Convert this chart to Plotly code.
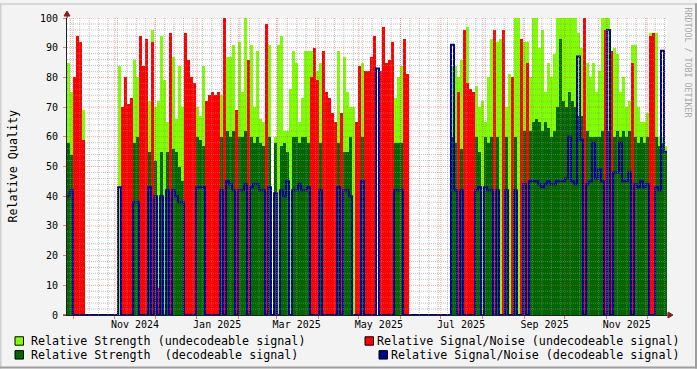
import plotly.graph_objects as go
import pandas as pd

# ---------------- data (per ~2.2-day bin) ----------------
START = "2024-09-26 13:00"
N_BINS = 200
BIN_SECONDS = 192370

# Relative Strength (undecodeable signal)
strength_undec = [
    85, 75, 0, 0, 0, 69, 0, 0, 0, 0, 0, 0, 0, 0, 0, 0, 0, 84, 0, 0,
    0, 0, 86, 80, 0, 0, 0, 72, 96, 70, 72, 94, 79, 65, 0, 87, 66, 84, 70, 0,
    0, 0, 0, 70, 67, 84, 0, 0, 0, 0, 0, 74, 0, 87, 87, 91, 0, 92, 75, 100,
    0, 91, 70, 89, 66, 65, 0, 91, 0, 60, 91, 94, 62, 62, 76, 89, 85, 65, 73, 89,
    89, 89, 0, 82, 85, 0, 0, 0, 0, 0, 89, 0, 87, 75, 70, 70, 0, 0, 85, 74,
    0, 0, 0, 0, 0, 0, 0, 0, 0, 73, 80, 84, 0, 0, 0, 0, 0, 0, 0, 0,
    0, 0, 0, 0, 0, 0, 0, 0, 84, 84, 80, 86, 0, 97, 0, 0, 77, 70, 72, 65,
    80, 93, 0, 92, 93, 0, 70, 81, 0, 100, 100, 0, 92, 92, 80, 100, 100, 90, 96, 75,
    85, 80, 88, 100, 100, 100, 100, 100, 100, 100, 95, 90, 0, 85, 80, 85, 75, 82, 100, 100,
    100, 0, 90, 88, 75, 80, 70, 72, 91, 91, 70, 65, 65, 68, 95, 0, 95, 60, 60, 57,
]

# Relative Signal/Noise (undecodeable signal)
snr_undec = [
    0, 0, 80, 94, 92, 59, 0, 0, 0, 0, 0, 0, 0, 0, 0, 0, 0, 0, 70, 80,
    71, 73, 0, 0, 94, 84, 93, 0, 92, 0, 9, 0, 0, 0, 95, 0, 0, 0, 0, 95,
    86, 80, 78, 0, 0, 0, 72, 74, 75, 74, 75, 0, 100, 0, 0, 0, 69, 0, 0, 0,
    86, 0, 0, 0, 0, 0, 98, 0, 0, 0, 0, 0, 0, 0, 0, 0, 0, 0, 0, 0,
    0, 80, 90, 79, 0, 89, 75, 73, 68, 65, 0, 68, 0, 0, 0, 0, 65, 84, 0, 82,
    82, 87, 94, 0, 82, 97, 85, 86, 92, 0, 0, 0, 93, 81, 0, 0, 0, 0, 0, 0,
    0, 0, 0, 0, 0, 0, 0, 0, 0, 0, 75, 0, 96, 78, 76, 75, 0, 0, 0, 0,
    0, 0, 96, 0, 0, 96, 0, 0, 80, 0, 0, 93, 0, 85, 0, 0, 0, 0, 0, 0,
    0, 0, 0, 0, 0, 0, 0, 0, 0, 0, 0, 0, 100, 0, 0, 0, 0, 0, 0, 96,
    0, 89, 0, 0, 0, 0, 0, 0, 85, 0, 0, 0, 0, 0, 94, 95, 0, 0, 0, 0,
]

# Relative Strength (decodeable signal)
strength_dec = [
    58, 54, 0, 0, 0, 0, 0, 0, 0, 0, 0, 0, 0, 0, 0, 0, 0, 0, 0, 0,
    0, 0, 58, 60, 0, 0, 0, 55, 0, 52, 0, 55, 0, 55, 0, 56, 55, 50, 45, 0,
    0, 0, 0, 60, 59, 57, 0, 0, 0, 0, 0, 60, 0, 62, 60, 62, 0, 60, 60, 62,
    0, 60, 58, 60, 58, 57, 0, 60, 0, 58, 0, 57, 58, 55, 0, 60, 60, 58, 60, 60,
    58, 0, 0, 0, 58, 0, 0, 0, 0, 0, 58, 0, 55, 55, 60, 0, 0, 0, 60, 0,
    0, 0, 0, 0, 0, 0, 0, 0, 0, 58, 58, 58, 0, 0, 0, 0, 0, 0, 0, 0,
    0, 0, 0, 0, 0, 0, 0, 0, 60, 58, 0, 56, 0, 0, 0, 0, 60, 55, 0, 60,
    58, 60, 0, 60, 0, 0, 60, 0, 0, 60, 0, 0, 62, 0, 62, 65, 66, 65, 62, 65,
    63, 60, 62, 70, 93, 72, 70, 75, 72, 70, 67, 67, 0, 62, 60, 60, 60, 60, 62, 0,
    62, 0, 60, 62, 60, 62, 60, 62, 0, 60, 58, 60, 58, 60, 0, 0, 60, 57, 58, 55,
]

# Relative Signal/Noise (decodeable signal)
snr_dec = [
    40, 42, 0, 0, 0, 0, 0, 0, 0, 0, 0, 0, 0, 0, 0, 0, 0, 43, 0, 0,
    0, 0, 38, 38, 0, 0, 0, 43, 0, 40, 0, 40, 0, 42, 0, 42, 40, 38, 38, 0,
    0, 0, 0, 43, 43, 43, 0, 0, 0, 0, 0, 42, 0, 45, 44, 42, 0, 42, 42, 44,
    0, 43, 44, 44, 42, 42, 0, 43, 0, 41, 0, 42, 40, 45, 0, 42, 42, 44, 42, 42,
    43, 0, 0, 0, 42, 0, 0, 0, 0, 0, 43, 0, 42, 42, 40, 0, 0, 0, 45, 0,
    0, 0, 0, 83, 0, 0, 0, 0, 0, 42, 42, 42, 0, 0, 0, 0, 0, 0, 0, 0,
    0, 0, 0, 0, 0, 0, 0, 0, 91, 42, 0, 42, 0, 0, 0, 0, 42, 43, 0, 43,
    42, 42, 0, 42, 0, 0, 42, 0, 0, 42, 0, 0, 44, 0, 45, 45, 45, 44, 43, 44,
    45, 44, 44, 45, 45, 45, 46, 60, 45, 44, 87, 59, 0, 44, 45, 58, 46, 49, 45, 0,
    96, 0, 48, 48, 58, 45, 45, 48, 0, 44, 43, 45, 43, 44, 0, 0, 43, 42, 89, 55,
]

# axis labels
LABEL_DATES = ["2024-11-16", "2025-01-16", "2025-03-16", "2025-05-16",
               "2025-07-16", "2025-09-16", "2025-11-16"]
LABEL_TEXT = ["Nov 2024", "Jan 2025", "Mar 2025", "May 2025",
              "Jul 2025", "Sep 2025", "Nov 2025"]
Y_TICKS = [0, 10, 20, 30, 40, 50, 60, 70, 80, 90, 100]

SERIES_NAMES = ["Relative Strength (undecodeable signal)",
                "Relative Signal/Noise (undecodeable signal)",
                "Relative Strength  (decodeable signal)",
                "Relative Signal/Noise (decodeable signal)"]
COLORS = ["#80FF00", "#FF0000", "#006600", "#000099"]

# ---------------- figure ----------------
W, H = 697, 369
L, R, T, B = 67, 667, 15, 315   # plot area in pixels


def px(xp):
    return (xp - L) / (R - L)


def py(yp):
    return (B - yp) / (B - T)


bin_td = pd.Timedelta(seconds=BIN_SECONDS)
edges = pd.date_range(pd.Timestamp(START), periods=N_BINS + 1, freq=bin_td)
starts = edges[:-1]
width_ms = BIN_SECONDS * 1000.0

fig = go.Figure()


def bar(vals, color):
    return go.Bar(x=starts, y=[v if v else None for v in vals], width=width_ms, offset=0,
                  marker=dict(color=color, line=dict(width=0)),
                  showlegend=False, hoverinfo="skip")


fig.add_trace(bar(strength_undec, COLORS[0]))
fig.add_trace(bar(snr_undec, COLORS[1]))
fig.add_trace(bar(strength_dec, COLORS[2]))
fig.add_trace(go.Scatter(x=edges, y=list(snr_dec) + [snr_dec[-1]], mode="lines",
                         line=dict(color=COLORS[3], width=2, shape="hv"),
                         showlegend=False, hoverinfo="skip"))

month_starts = pd.date_range("2024-10-01", "2025-12-01", freq="MS")
sundays = pd.date_range("2024-09-29", edges[-1], freq="W-SUN")

shapes = []
MINOR = "rgba(143,143,143,0.55)"
MAJOR = "rgba(235,70,70,0.5)"
# horizontal grid
for v in range(2, 101, 2):
    shapes.append(dict(type="line", xref="paper", yref="y", x0=0, x1=1, y0=v, y1=v,
                       line=dict(color=MAJOR if v % 10 == 0 else MINOR, width=1, dash="1px,1px"),
                       layer="above"))
# vertical grid
for d in sundays:
    shapes.append(dict(type="line", xref="x", yref="paper", x0=d, x1=d, y0=0, y1=1,
                       line=dict(color=MINOR, width=1, dash="1px,1px"), layer="above"))
for d in month_starts:
    shapes.append(dict(type="line", xref="x", yref="paper", x0=d, x1=d, y0=0, y1=1,
                       line=dict(color=MAJOR, width=1, dash="1px,1px"), layer="above"))

ARROW = "#8C1C1C"
# arrows
shapes.append(dict(type="path", xref="paper", yref="paper", xsizemode="pixel", ysizemode="pixel",
                   xanchor=0, yanchor=1, path="M0,0 L0,2 M-3,2 L3,2 L0,7 Z",
                   fillcolor=ARROW, line=dict(color=ARROW, width=1), layer="above"))
shapes.append(dict(type="path", xref="paper", yref="paper", xsizemode="pixel", ysizemode="pixel",
                   xanchor=1, yanchor=0, path="M0,0 L1,0 M1,-3 L1,3 L6,0 Z",
                   fillcolor=ARROW, line=dict(color=ARROW, width=1), layer="above"))
# small stub of the time axis left of the value axis
shapes.append(dict(type="line", xref="paper", yref="paper", x0=px(63), x1=px(67), y0=0, y1=0,
                   line=dict(color="#202020", width=1), layer="above"))

# frame shading
shapes += [
    dict(type="rect", xref="paper", yref="paper", x0=px(0), x1=px(W), y0=py(0), y1=py(1.5),
         fillcolor="#CFCFCF", line=dict(width=0), layer="above"),
    dict(type="rect", xref="paper", yref="paper", x0=px(0), x1=px(1.5), y0=py(0), y1=py(H),
         fillcolor="#CFCFCF", line=dict(width=0), layer="above"),
    dict(type="rect", xref="paper", yref="paper", x0=px(W - 2), x1=px(W), y0=py(0), y1=py(H),
         fillcolor="#9E9E9E", line=dict(width=0), layer="above"),
    dict(type="rect", xref="paper", yref="paper", x0=px(0), x1=px(W), y0=py(H - 2), y1=py(H),
         fillcolor="#9E9E9E", line=dict(width=0), layer="above"),
]

# legend boxes (manual, rrdtool style)
LEG_FONT = dict(family="DejaVu Sans Mono", size=11.7, color="#000000")
legend_items = [
    # (square left px, square top px, text x px, anchor, text center y)
    (15, 337, 30, "left", 341.5),
    (365, 337, 681, "right", 341.5),
    (15, 351, 30, "left", 355.5),
    (379, 351, 681, "right", 355.5),
]
annotations = []
for (sx, sy, tx, anc, ty), name, col in zip(legend_items, SERIES_NAMES, COLORS):
    shapes.append(dict(type="rect", xref="paper", yref="paper",
                       x0=px(sx), x1=px(sx + 8.5), y0=py(sy), y1=py(sy + 8.5),
                       fillcolor=col, line=dict(color="#000000", width=1), layer="above"))
    annotations.append(dict(text=name, xref="paper", yref="paper", x=px(tx), y=py(ty),
                            xanchor=anc, yanchor="middle", showarrow=False, font=LEG_FONT,
                            borderpad=0))

annotations.append(dict(text="Relative Quality", xref="paper", yref="paper", x=px(12), y=py(165),
                        xanchor="center", yanchor="middle", textangle=-90, showarrow=False,
                        font=LEG_FONT))
annotations.append(dict(text="RRDTOOL / TOBI OETIKER", xref="paper", yref="paper", x=px(688),
                        y=py(60), xanchor="center", yanchor="middle", textangle=90,
                        showarrow=False,
                        font=dict(family="DejaVu Sans Mono", size=8.3, color="#A8A8A8")))

fig.update_layout(
    width=W, height=H,
    margin=dict(l=L, r=W - R, t=T, b=H - B, pad=0),
    paper_bgcolor="#F3F3F3", plot_bgcolor="#FFFFFF",
    barmode="overlay", bargap=0, showlegend=False,
    font=dict(family="DejaVu Sans Mono", size=10, color="#000000"),
    shapes=shapes, annotations=annotations,
)
fig.update_xaxes(
    type="date", range=[edges[0], edges[-1]],
    tickmode="array", tickvals=LABEL_DATES, ticktext=LABEL_TEXT, ticks="",
    showgrid=False, zeroline=False, showline=True, linecolor="#202020", linewidth=1,
    layer="above traces", tickfont=dict(size=10),
    minor=dict(tickmode="array", tickvals=list(month_starts), ticks="outside", ticklen=3,
               tickcolor="#E08080", showgrid=False),
    fixedrange=True,
)
fig.update_yaxes(
    range=[0, 100], tickmode="array", tickvals=Y_TICKS, ticks="outside", ticklen=3,
    tickcolor="#E08080", showgrid=False, zeroline=False, showline=True,
    linecolor="#202020", linewidth=1, layer="above traces", tickfont=dict(size=10),
    ticklabelstandoff=3, fixedrange=True,
)

fig.write_html("out.html")
